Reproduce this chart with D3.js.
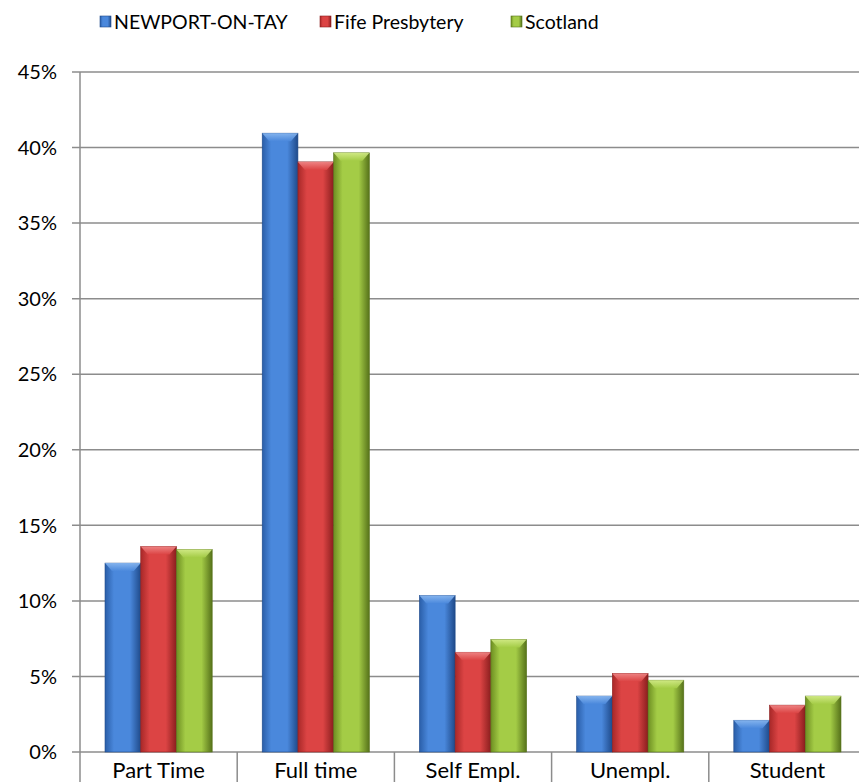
<!DOCTYPE html>
<html><head><meta charset="utf-8">
<script src="https://cdn.jsdelivr.net/npm/d3@7"></script>
<style>body{margin:0;background:#fff}svg{display:block}text{font-family:Lato,"Open Sans",sans-serif;fill:#000}</style>
</head><body><div id="c"></div>
<script>
const categories = ["Part Time","Full time","Self Empl.","Unempl.","Student"];
const seriesNames = ["NEWPORT-ON-TAY","Fife Presbytery","Scotland"];
const newport = [12.5, 40.95, 10.35, 3.7, 2.1];
const fife = [13.6, 39.05, 6.6, 5.2, 3.1];
const scotland = [13.4, 39.65, 7.45, 4.75, 3.7];
const yTicks = [0,5,10,15,20,25,30,35,40,45];

const W=859,H=782;
const svg=d3.select("#c").append("svg").attr("width",W).attr("height",H);
const m={l:80,t:72,r:866,b:752};
const x0=d3.scaleBand().domain(categories).range([m.l,m.r]).padding(0);
const x1=d3.scaleBand().domain(seriesNames).range([0,x0.bandwidth()]).paddingInner(0).paddingOuter(0.7);
const y=d3.scaleLinear().domain([0,45]).range([m.b,m.t]);

const pal=[{mid:"#4a88dc",light:"#8ab8f0",edge:"#2a5ea8",dark:"#1f4a8a"},
           {mid:"#dc4444",light:"#f08a8a",edge:"#a82828",dark:"#8a1e1e"},
           {mid:"#a4cc46",light:"#d4ec8a",edge:"#6e8f22",dark:"#56721a"}];
const defs=svg.append("defs");
pal.forEach((p,i)=>{
  const g=defs.append("linearGradient").attr("id","g"+i).attr("x1",0).attr("x2",1).attr("y1",0).attr("y2",0);
  g.append("stop").attr("offset","0%").attr("stop-color",p.edge);
  g.append("stop").attr("offset","25%").attr("stop-color",p.mid);
  g.append("stop").attr("offset","70%").attr("stop-color",p.mid);
  g.append("stop").attr("offset","100%").attr("stop-color",p.dark);
  const t=defs.append("linearGradient").attr("id","t"+i).attr("x1",0).attr("x2",0).attr("y1",0).attr("y2",1);
  t.append("stop").attr("offset","0%").attr("stop-color",p.light);
  t.append("stop").attr("offset","100%").attr("stop-color",p.mid);
});

const grid=svg.append("g");
grid.selectAll("line").data(yTicks).join("line")
  .attr("x1",72).attr("x2",W).attr("y1",d=>y(d)).attr("y2",d=>y(d))
  .attr("stroke","#8c8c8c").attr("stroke-width",1.5);
svg.append("line").attr("x1",m.l).attr("x2",m.l).attr("y1",m.t).attr("y2",H)
  .attr("stroke","#8c8c8c").attr("stroke-width",1.5);
svg.append("g").selectAll("line").data(categories.slice(1)).join("line")
  .attr("x1",d=>x0(d)).attr("x2",d=>x0(d)).attr("y1",m.b).attr("y2",H)
  .attr("stroke","#8c8c8c").attr("stroke-width",1.5);
svg.append("g").selectAll("text").data(yTicks).join("text")
  .attr("x",57).attr("y",d=>y(d)).attr("dy","0.36em").attr("text-anchor","end")
  .attr("font-size",20).text(d=>d+"%");
svg.append("g").selectAll("text").data(categories).join("text")
  .attr("x",d=>x0(d)+x0.bandwidth()/2).attr("y",778).attr("text-anchor","middle")
  .attr("font-size",22).text(d=>d);

const series=[newport,fife,scotland];
const bars=[];
categories.forEach((c,ci)=>series.forEach((s,si)=>bars.push({c,si,v:s[ci]})));
const bg=svg.append("g").selectAll("g").data(bars).join("g");
bg.each(function(d){
  const g=d3.select(this);
  const xa=x0(d.c)+x1(seriesNames[d.si]), w=x1.bandwidth(), ya=y(d.v), yb=y(0);
  const p=pal[d.si];
  g.append("rect").attr("x",xa).attr("y",ya).attr("width",w).attr("height",yb-ya)
    .attr("fill",`url(#g${d.si})`).attr("stroke",p.dark).attr("stroke-width",0.6);
  const b=Math.min(8,(yb-ya)/2);
  g.append("path").attr("d",`M${xa},${ya}L${xa+w},${ya}L${xa+w-7},${ya+b}L${xa+7},${ya+b}Z`)
    .attr("fill",`url(#t${d.si})`).attr("opacity",0.9);
});

const lg=svg.append("g");
const lx=[100,320,511];
seriesNames.forEach((n,i)=>{
  lg.append("rect").attr("x",lx[i]).attr("y",16).attr("width",11).attr("height",11)
    .attr("fill",`url(#g${i})`).attr("stroke",pal[i].dark).attr("stroke-width",0.6);
  lg.append("text").attr("x",lx[i]+14).attr("y",29).attr("font-size",19.5).text(n);
});
</script></body></html>
